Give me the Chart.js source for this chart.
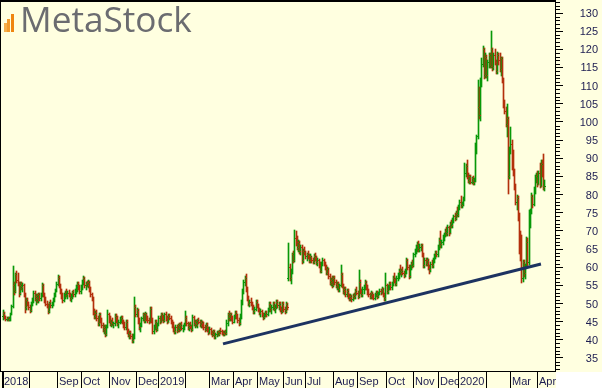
<!DOCTYPE html>
<html>
<head>
<meta charset="utf-8">
<script src="https://cdn.jsdelivr.net/npm/chart.js@4.4.1/dist/chart.umd.min.js"></script>
<style>
  html, body { margin: 0; padding: 0; background: #ffffe0; }
  #wrap { width: 602px; height: 388px; }
</style>
</head>
<body>
<div id="wrap"><canvas id="chart" width="602" height="388"></canvas></div>
<script>
// daily bars, Jul 2018 - Apr 2020 (index 0 = first bar)
const opens = [
  46.5,47.5,46.2,45.8,46,45.7,45.9,47.2,49.2,55, 53.5,58,56.5,55.5,53,55.2,54.5,55,52.5,49,
  51,50,49,48.2,50,51.2,53,51.5,52,51, 52.6,51.5,52.3,55,52.5,51,50,49.5,48,50.2,
  49.5,50,51.2,52.5,53.8,55.5,57,55,53.5,52, 51,52.5,53,52.5,53,52.3,51.5,52,53.2,52.5,
  53.5,54.5,55.5,54.5,53.5,54.5,56,57,55,55.5, 55.2,56,54,52.5,51.5,47.5,46.5,47.5,46,44.5,
  47,45.5,44,43,43.5,41.5,43.8,47,45.5,44.5, 45,44.3,44.5,46.5,45.5,44.5,45,45.5,46,45,
  44,43.5,45,42.5,41.5,42,41,40,41,49, 47,48.3,45,43.5,44,46,47,45.5,47.3,46,
  45.5,45,48.5,45.5,42.5,43.5,45,43,44.2,46, 45,47,46,45.5,47.2,46,45,46.5,46,45,
  44,43,42.5,43.5,42.7,44,43,44.2,43.3,43.8, 44.2,46,44.5,43.5,44,43.5,43,46.2,44.5,45,
  44,45.5,45,44,45,44,43.5,43,44.2,43, 42,43,41.8,41.5,42.5,41,41.5,42,41.5,42.5,
  42.3,42,41.7,42,41.8,44.5,47,46,47,46, 45,46.5,47.5,46.5,45.5,44.5,46.5,50.5,53.5,56,
  57,54,51.5,50,50.5,50,49,48,48.5,50.5, 49.5,48.3,47.5,48,47,46.3,47.2,47.5,47,48.5,
  50,48.5,49,50,48.7,49,50.5,49.5,50,48.5, 48,50,48.5,48,50,57,60,57,59,63.5,
  62,68,67,65.5,67,64.5,65.5,62,64.5,64, 63,63.5,63,62,63,62,61.5,63,62.5,61.5,
  62,60.5,59,61,62,61,60,58.5,59.5,57.5, 56,56.5,55,57,56,55,55.5,54,55,58,
  55,53.5,54,52.5,53.5,52,51.5,52,51.2,52.2, 52,53.5,53,52,56,53.5,52.5,54,54.5,56,
  54.5,53,52.5,52,53,52,51.5,52.5,53,52, 53,53.5,53,54,52.5,51.5,55,53.5,54.5,55.5,
  54.5,55.5,57,56.5,55.5,57,58,59,58.5,59, 58.5,58,59,62,60,57.5,60,61,60.5,63.5,
  64.5,65.5,66.5,65,65.5,66,63.5,60.5,62,61, 62,60,59.5,61,60.5,62,63,64,63.5,65.5,
  67.5,66.5,67,68.5,69,70,69.5,71,69.5,72, 71.5,73,74,73.5,75,74.5,76.5,78,77,77.5,
  79,86,88,85,84,85,83.5,84.5,83.5,84, 92,96,104,102,111.5,116,120,113,118,113,
  116.5,118.5,115.5,120,115,118.5,116.5,114,118.5,117, 114.5,117.5,111.5,105,103,99.5,101,85,92.5,94,
  88,86,82,78,79,74,65,63,57,61.5, 58.5,60.5,67,61.5,74,75.5,79.5,77.5,81.5,84.5,
  85,83,86,82.5,88.5,86,82
];
const highs = [
  48.2,47.8,46.5,46.4,46.3,46.2,47.5,49.5,60.3,56, 58.5,59,58.3,56,55.8,56,55.6,55.4,53,51.5,
  51.5,50.5,49.5,50.5,51.5,53.5,53.4,52.5,52.5,53, 53,52.8,55.7,55.3,53,51.8,50.8,50,50.5,51,
  50.5,51.5,53,54,56,57.9,57.5,55.5,54,52.8, 53,53.5,54,53.5,53.8,53,52.5,53.5,53.8,54,
  55,56,56,55.2,55,56.5,57.6,57.3,56,56.3, 56.5,56.2,54.5,53,51.7,48.5,48,48.2,46.5,47.5,
  47.5,46,44.5,44,44,44,48.2,47.5,46.5,45.5, 46,45,47,47.2,46.5,45.5,46.3,46.5,46.5,45.5,
  45,45.5,45.5,43,42.5,42.5,41.5,41.5,51.8,49.5, 48.7,48.5,46,44.5,46.3,47.5,47.3,47.7,47.5,46.5,
  46,49,49,46,44,45.5,45.5,44.5,46.5,46.5, 47.3,47.5,46.8,47.5,47.6,46.5,47,47.2,46.5,45.5,
  44.8,43.5,44,44,44.3,44.5,44.5,44.8,44.2,44.5, 48,46.5,45,44.5,45,44,46.8,46.5,45.5,45.5,
  45.8,46,45.5,45.5,45.3,44.8,44,44.5,44.5,43.5, 43.5,43.2,42.5,42.8,42.8,41.8,42.5,42.5,42.8,43.2,
  42.7,42.5,42.3,42.6,45.5,47.5,48,47.5,47.5,46.5, 46.8,48,48,47,46,47,51,54,56.5,57.5,
  58.1,54.5,52,51,51.5,50.5,49.5,49,51,51, 50,48.8,48.5,48.3,47.5,47.5,48,48,48.8,50.5,
  50.5,49.5,50.5,50.3,49.5,51,51,50.5,50.5,49, 50.5,50.5,49,50.3,50.2,66.7,61,59.5,64,64.5,
  70.2,70,68.5,67.5,67.3,66,66,65,65.5,64.5, 64,64.5,63.5,63.5,63.2,62.5,63.5,63.8,63,62.5,
  62.3,61.5,61.5,62.5,62.2,61.5,60.5,60,59.8,58, 57,57.5,57.5,57.5,56.5,56,56,55.5,60.6,58.5,
  55.5,54.5,54.5,54,54,52.5,52.5,52.3,52.5,53, 54,54.5,53.5,59.2,56.5,54,54.5,55,56.5,56.3,
  55,54,53,53.5,53.2,52.5,53,53.5,53.5,53.2, 54,54,54.5,54.3,53,58.4,55.5,55,56,56,
  56,57.5,58.5,57,57.5,58.5,59.5,60.5,59.5,60, 59,59.5,62.5,62.3,60.5,60.5,61.5,62,64,65,
  66,67,67.2,66.5,66.5,66.3,64,62.5,62.5,62.5, 62.3,60.5,61.5,62,62.5,63.5,64.5,64.5,66,68,
  70,67.5,68.8,69.5,70.5,71,71.5,71.3,72.5,73, 73.5,74.5,75,75.5,76.5,77,78.5,79.5,78,79.3,
  88.7,88.5,89.5,86,85.5,85.5,84.8,85,84.5,94.2, 96.5,111.5,109.6,112,117.6,121,120.5,119,118.5,117,
  119,119,125,120.5,119,120,117,119.3,119,119, 118,118,112,106,104,105,101.4,93,98.6,95,
  92.3,87,83,80,79.5,75,70,69,62,62, 61,68.3,68,75.8,76,80.4,80,82,85.4,86,
  86.5,86.5,88.7,89.5,89.5,91.2,84
];
const lows = [
  45.8,46,45.5,45.4,45.5,45.4,45.6,47,49,52.5, 53.2,56,55,52,52.5,54,53.5,52,47.7,48.5,
  49.5,48.5,47.7,48,49.5,50.5,51,50,50.5,50.5, 51,51,52,52,50.5,49.5,49,47.4,47.8,49,
  49,49.5,50.8,52,53.5,55,54.5,53,51.5,50.5, 50.8,51.5,52,51.5,52,51,50.8,51.5,52,52,
  53,53.5,54,53,53,54,55.5,54.5,54,54.8, 54.5,53.5,52,51,47,46,46,45.5,44,44,
  45,43.5,42.5,42,41,41.3,43.5,45,44,43.8, 44,43.5,44,45,44,43.5,44.5,44.8,44.5,43.5,
  43,43,42,41,40.5,40.5,39.5,39.4,40.5,46.5, 46.5,44.5,43,42.5,43.8,45.5,45,45,45.5,45,
  44.5,44.8,45,42,42,43,42.5,42.8,44,44.5, 44.8,45.5,45,45.3,45.5,44.5,44.8,45.8,44.5,43.5,
  42.5,42,42,42.2,42.5,42.5,42.8,43,42.5,43, 44,44,43,42.8,43.2,42.5,42.8,44,43.5,43.8,
  43.5,44.5,43.8,43.5,43.5,43,42.5,42.8,42.5,41.5, 41.8,41.5,41,41.2,40.5,40.5,41,41.2,41.3,42,
  41.5,41.3,41.2,41.5,41.5,44,45.5,45.5,45.5,44.5, 44.8,46,46,45,44,44.3,46,50,53,55,
  53.5,51,49.5,49.3,49.5,48.5,47.5,47.3,48.2,49, 48,47,46.5,46.5,45.8,46,46.5,46.5,46.8,48,
  48,47.5,48.5,48.2,47.8,48.8,49,48.5,48,47.5, 47.8,48,47.4,47.8,48.5,56.5,56.5,55.7,58.5,61.5,
  61.8,66,65,64.5,64,63.5,61.2,61.5,63.5,62.5, 62,62.5,61.5,61.5,61.5,61.2,61.2,62,61,60.5,
  60,58.7,58.7,60.5,60.5,59.5,58,58,57,55.5, 55,54.5,54.8,55.5,54.5,54,53.5,53.5,54.8,54.5,
  53,52.5,52,52,51.5,51,51,50.8,51,51.5, 51.5,52.5,51.5,51.8,53,52,52,53,54,54,
  52.5,52,51.5,51.5,51.5,51.2,51.3,52,51.5,51.8, 52.5,52.5,52.8,52,51,51,53,53,54,54,
  54,55,56,55,55,56.5,57,58,57.5,58, 57.3,57.5,58.5,59.5,57,57.3,59.5,60,60.2,63,
  64,64.5,64.5,64.5,64.8,63,60,60,60.5,60.5, 59.5,58.5,59,60,60,61.5,62.5,63,63,65,
  65.5,65.5,66.5,67.5,68.5,69,69,69,69.3,71, 71,72.5,73,73.3,74,74.2,76,76.5,76.5,77,
  78.5,85,84.6,83.5,83.2,83.2,83.2,83,83,83.8, 91.5,95.5,101,100.5,110,115.5,112,112.5,112.5,111.5,
  115,115,115,114.3,114.5,116,113.5,113.5,116,114, 113,111,104,102.5,99,96,80.5,84.5,91.5,87,
  85.4,81.5,77.5,76,73,64,62,56,56.3,57.5, 57,60,60.6,61,71,75,76.6,77,80.5,83.5,
  82.5,82.8,82,82.3,85,81.5,81.3
];
const closes = [
  47.5,46.2,45.8,46,45.7,45.9,47.2,49.2,55,53.5, 58,56.5,55.5,53,55.2,54.5,55,52.5,49,51,
  50,49,48.2,50,51.2,53,51.5,52,51,52.6, 51.5,52.3,55,52.5,51,50,49.5,48,50.2,49.5,
  50,51.2,52.5,53.8,55.5,57,55,53.5,52,51, 52.5,53,52.5,53,52.3,51.5,52,53.2,52.5,53.5,
  54.5,55.5,54.5,53.5,54.5,56,57,55,55.5,55.2, 56,54,52.5,51.5,47.5,46.5,47.5,46,44.5,47,
  45.5,44,43,43.5,41.5,43.8,47,45.5,44.5,45, 44.3,44.5,46.5,45.5,44.5,45,45.5,46,45,44,
  43.5,45,42.5,41.5,42,41,40,41,49,47, 48.3,45,43.5,44,46,47,45.5,47.3,46,45.5,
  45,48.5,45.5,42.5,43.5,45,43,44.2,46,45, 47,46,45.5,47.2,46,45,46.5,46,45,44,
  43,42.5,43.5,42.7,44,43,44.2,43.3,43.8,44.2, 46,44.5,43.5,44,43.5,43,46.2,44.5,45,44,
  45.5,45,44,45,44,43.5,43,44.2,43,42, 43,41.8,41.5,42.5,41,41.5,42,41.5,42.5,42.3,
  42,41.7,42,41.8,44.5,47,46,47,46,45, 46.5,47.5,46.5,45.5,44.5,46.5,50.5,53.5,56,57,
  54,51.5,50,50.5,50,49,48,48.5,50.5,49.5, 48.3,47.5,48,47,46.3,47.2,47.5,47,48.5,50,
  48.5,49,50,48.7,49,50.5,49.5,50,48.5,48, 50,48.5,48,50,49,60,57,59,63.5,62,
  68,67,65.5,67,64.5,65.5,62,64.5,64,63, 63.5,63,62,63,62,61.5,63,62.5,61.5,62,
  60.5,59,61,62,61,60,58.5,59.5,57.5,56, 56.5,55,57,56,55,55.5,54,55,58,55,
  53.5,54,52.5,53.5,52,51.5,52,51.2,52.2,52, 53.5,53,52,56,53.5,52.5,54,54.5,56,54.5,
  53,52.5,52,53,52,51.5,52.5,53,52,53, 53.5,53,54,52.5,51.5,55,53.5,54.5,55.5,54.5,
  55.5,57,56.5,55.5,57,58,59,58.5,59,58.5, 58,59,62,60,57.5,60,61,60.5,63.5,64.5,
  65.5,66.5,65,65.5,66,63.5,60.5,62,61,62, 60,59.5,61,60.5,62,63,64,63.5,65.5,67.5,
  66.5,67,68.5,69,70,69.5,71,69.5,72,71.5, 73,74,73.5,75,74.5,76.5,78,77,77.5,79,
  86,88,85,84,85,83.5,84.5,83.5,84,92, 96,104,102,111.5,116,120,113,118,113,116.5,
  118.5,115.5,120,115,118.5,116.5,114,118.5,117,114.5, 117.5,111.5,105,103,99.5,101,85,92.5,94,88,
  86,82,78,79,74,65,63,57,61.5,58.5, 60.5,67,61.5,74,75.5,79.5,77.5,81.5,84.5,85,
  83,86,82.5,88.5,86,82,82.5
];

// first bar index of each month, with its axis label ('' = no room for a label)
const monthStarts = [0,22,45,65,88,110,128,150,170,190,210,231,249,272,292,316,338,359,375,398,418,440];
const monthLabels = ['2018','','Sep','Oct','Nov','Dec','2019','','Mar','Apr','May','Jun','Jul','Aug','Sep','Oct','Nov','Dec','2020','','Mar','Apr'];
const priceTicks = [35,40,45,50,55,60,65,70,75,80,85,90,95,100,105,110,115,120,125,130];

// support trend line (bar index, price)
const trendX = [180.8, 442.7];
const trendY = [38.9, 60.9];

const UP = '#089808';
const DOWN = '#b3300c';
const BG = '#ffffe0';
const TEXT = '#1c1c50';
const FONT = '11px "Liberation Sans", Arial, sans-serif';

const barColors = closes.map((c, i) => c >= opens[i] ? UP : DOWN);

const ohlcPlugin = {
  id: 'ohlc',
  beforeDraw(chart) {
    const ctx = chart.ctx;
    ctx.save();
    ctx.fillStyle = BG;
    ctx.fillRect(0, 0, chart.width, chart.height);
    ctx.fillStyle = '#ffffff';
    ctx.fillRect(556, 372, chart.width - 556, chart.height - 372);

    // logo
    const bars = [[4, 23, '#f6ae4b'], [7, 19, '#f39a2c'], [11, 14, '#ef8510']];
    bars.forEach(([bx, by, col]) => {
      ctx.fillStyle = col;
      ctx.fillRect(bx, by, 3, 32 - by);
    });
    ctx.fillStyle = '#6b6c70';
    ctx.font = '35px "Open Sans", "Noto Sans", sans-serif';
    const w = ctx.measureText('MetaStock').width;
    const size = 35 * 172 / w;
    ctx.font = size.toFixed(1) + 'px "Open Sans", "Noto Sans", sans-serif';
    ctx.textBaseline = 'alphabetic';
    ctx.fillText('MetaStock', 20, 32);
    ctx.restore();
  },
  beforeDatasetsDraw(chart) {
    const meta = chart.getDatasetMeta(1);
    meta.data.forEach(el => {
      el.x = Math.floor(el.x) + 0.5;
      el.y = Math.round(el.y);
      el.base = Math.round(el.base) + 1;
    });
  },
  afterDatasetDraw(chart, args) {
    if (args.index !== 1) return;
    const ctx = chart.ctx;
    const y = chart.scales.y;
    const meta = chart.getDatasetMeta(1);
    ctx.save();
    meta.data.forEach((el, i) => {
      const x0 = Math.floor(el.x);
      ctx.fillStyle = barColors[i];
      ctx.fillRect(x0 - 1, Math.round(y.getPixelForValue(opens[i])), 1, 1);
      ctx.fillRect(x0 + 1, Math.round(y.getPixelForValue(closes[i])), 1, 1);
    });
    ctx.restore();
  },
  afterDraw(chart) {
    const ctx = chart.ctx;
    const x = chart.scales.x;
    const y = chart.scales.y;
    const area = chart.chartArea;
    ctx.save();
    ctx.fillStyle = '#000';
    ctx.fillRect(0, 0, area.right + 1, 2);
    ctx.fillRect(0, 0, 1, area.bottom);

    // minor ticks on the price axis
    for (let v = 32; v <= 133; v++) {
      if (v % 5 === 0) continue;
      const py = Math.round(y.getPixelForValue(v));
      ctx.fillRect(area.right + 1, py, 4, 1);
    }

    // price labels
    ctx.font = FONT;
    ctx.fillStyle = TEXT;
    ctx.textAlign = 'right';
    ctx.textBaseline = 'middle';
    priceTicks.forEach(v => {
      ctx.fillText(String(v), 598, Math.round(y.getPixelForValue(v)) + 1);
    });

    // month band
    ctx.textAlign = 'left';
    ctx.textBaseline = 'alphabetic';
    monthStarts.forEach((m, k) => {
      const px = Math.floor(x.getPixelForValue(m - 0.5));
      ctx.fillStyle = '#000';
      ctx.fillRect(px, area.bottom + 1, k === 0 ? 2 : 1, chart.height - area.bottom - 1);
      if (monthLabels[k]) {
        ctx.fillStyle = TEXT;
        ctx.fillText(monthLabels[k], px + 2, 385);
      }
    });
    ctx.restore();
  }
};

new Chart(document.getElementById('chart'), {
  data: {
    datasets: [
      {
        type: 'line',
        data: trendX.map((v, i) => ({ x: v, y: trendY[i] })),
        borderColor: '#1d3361',
        borderWidth: 3,
        pointRadius: 0,
        order: 0
      },
      {
        type: 'bar',
        data: highs.map((h, i) => ({ x: i, y: [lows[i], h] })),
        backgroundColor: barColors,
        borderWidth: 0,
        barThickness: 1,
        grouped: false,
        order: 1
      }
    ]
  },
  options: {
    responsive: false,
    animation: false,
    events: [],
    layout: { padding: { left: 0, right: 4, top: 0, bottom: 0 } },
    plugins: { legend: { display: false }, tooltip: { enabled: false } },
    scales: {
      x: {
        type: 'linear',
        offset: false,
        min: -2.883,
        max: 454.25,
        grid: { display: false },
        ticks: { display: false },
        border: { color: '#000', width: 1 },
        afterFit(scale) { scale.height = 17; }
      },
      y: {
        type: 'linear',
        position: 'right',
        min: 31.42,
        max: 133.58,
        afterBuildTicks(scale) { scale.ticks = priceTicks.map(v => ({ value: v })); },
        afterFit(scale) { scale.width = 43; },
        grid: { drawOnChartArea: false, drawTicks: true, tickLength: 8, color: '#000' },
        border: { color: '#000', width: 1 },
        ticks: { display: false }
      }
    }
  },
  plugins: [ohlcPlugin]
});
</script>
</body>
</html>
